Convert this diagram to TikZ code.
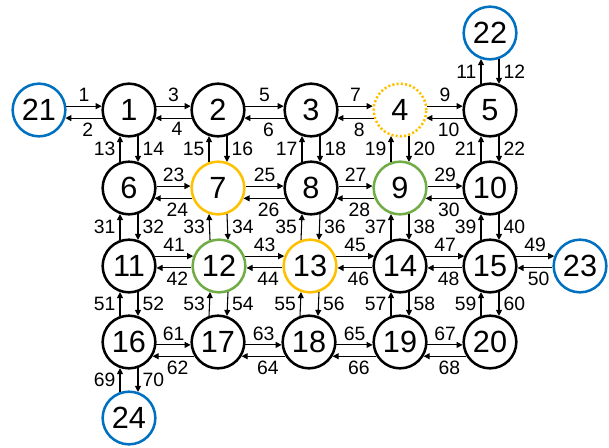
\documentclass[tikz,border=0pt]{standalone}
\usepackage{fontspec}
\setmainfont{Liberation Sans}
\usetikzlibrary{arrows.meta}
\definecolor{gateblue}{HTML}{0070C0}
\definecolor{hubgold}{HTML}{FFC000}
\definecolor{hubgreen}{HTML}{70AD47}

\begin{document}
\begin{tikzpicture}[
    x=0.75pt, y=-0.75pt,
    vtx/.style={draw=#1, circle, line width=1.9pt, minimum size=39.5pt, inner sep=0pt, font=\fontsize{23}{25}\selectfont},
    vtx/.default=black,
    arrow/.style={-{Triangle[length=4.5pt, width=4.5pt]}, line width=0.8pt},
    lbl/.style={font=\fontsize{14.5}{16}\selectfont, inner sep=3pt},
]
    \useasboundingbox (0,0) rectangle (609,447);

    % Grid nodes
    \node[vtx] (n1) at (129, 110) {1};
    \node[vtx] (n2) at (218, 110) {2};
    \node[vtx] (n3) at (311, 110) {3};
    \node[vtx=hubgold, dash pattern=on 1.6pt off 1.6pt] (n4) at (400, 110) {4};
    \node[vtx] (n5) at (490, 110) {5};

    \node[vtx] (n6) at (129, 188) {6};
    \node[vtx=hubgold] (n7) at (218, 188) {7};
    \node[vtx] (n8) at (311, 188) {8};
    \node[vtx=hubgreen] (n9) at (400, 188) {9};
    \node[vtx] (n10) at (490, 188) {10};

    \node[vtx] (n11) at (129, 266) {11};
    \node[vtx=hubgreen] (n12) at (219, 266) {12};
    \node[vtx=hubgold] (n13) at (310, 266) {13};
    \node[vtx] (n14) at (400, 266) {14};
    \node[vtx] (n15) at (490, 266) {15};

    \node[vtx] (n16) at (129, 342) {16};
    \node[vtx] (n17) at (218, 342) {17};
    \node[vtx] (n18) at (309, 342) {18};
    \node[vtx] (n19) at (400, 342) {19};
    \node[vtx] (n20) at (490, 342) {20};

    % Border nodes
    \node[vtx=gateblue] (n21) at (39, 110) {21};
    \node[vtx=gateblue] (n22) at (490, 33) {22};
    \node[vtx=gateblue] (n23) at (580, 266) {23};
    \node[vtx=gateblue] (n24) at (129, 418) {24};

    % Row 1
    \draw[arrow] (n21.8) -- node[lbl, above] {1} (n1.172);
    \draw[arrow] (n1.197) -- node[lbl, below, pos=0.4] {2} (n21.343);
    \draw[arrow] (n1.8) -- node[lbl, above] {3} (n2.172);
    \draw[arrow] (n2.197) -- node[lbl, below, pos=0.4] {4} (n1.343);
    \draw[arrow] (n2.8) -- node[lbl, above] {5} (n3.172);
    \draw[arrow] (n3.197) -- node[lbl, below, pos=0.4] {6} (n2.343);
    \draw[arrow] (n3.8) -- node[lbl, above] {7} (n4.172);
    \draw[arrow] (n4.197) -- node[lbl, below, pos=0.4] {8} (n3.343);
    \draw[arrow] (n4.8) -- node[lbl, above] {9} (n5.172);
    \draw[arrow] (n5.197) -- node[lbl, below, pos=0.4] {10} (n4.343);

    % Row 2
    \draw[arrow] (n6.4) -- node[lbl, above] {23} (n7.176);
    \draw[arrow] (n7.202) -- node[lbl, below, pos=0.4] {24} (n6.338);
    \draw[arrow] (n7.4) -- node[lbl, above] {25} (n8.176);
    \draw[arrow] (n8.202) -- node[lbl, below, pos=0.4] {26} (n7.338);
    \draw[arrow] (n8.4) -- node[lbl, above] {27} (n9.176);
    \draw[arrow] (n9.202) -- node[lbl, below, pos=0.4] {28} (n8.338);
    \draw[arrow] (n9.4) -- node[lbl, above] {29} (n10.176);
    \draw[arrow] (n10.202) -- node[lbl, below, pos=0.4] {30} (n9.338);

    % Row 3
    \draw[arrow] (n11.21) -- node[lbl, above] {41} (n12.159);
    \draw[arrow] (n12.184) -- node[lbl, below, pos=0.4] {42} (n11.356);
    \draw[arrow] (n12.21) -- node[lbl, above] {43} (n13.159);
    \draw[arrow] (n13.184) -- node[lbl, below, pos=0.4] {44} (n12.356);
    \draw[arrow] (n13.21) -- node[lbl, above] {45} (n14.159);
    \draw[arrow] (n14.184) -- node[lbl, below, pos=0.4] {46} (n13.356);
    \draw[arrow] (n14.21) -- node[lbl, above] {47} (n15.159);
    \draw[arrow] (n15.184) -- node[lbl, below, pos=0.4] {48} (n14.356);
    \draw[arrow] (n15.21) -- node[lbl, above] {49} (n23.159);
    \draw[arrow] (n23.184) -- node[lbl, below, pos=0.4] {50} (n15.356);

    % Row 4
    \draw[arrow] (n16.354) -- node[lbl, above] {61} (n17.186);
    \draw[arrow] (n17.211) -- node[lbl, below, pos=0.4] {62} (n16.329);
    \draw[arrow] (n17.354) -- node[lbl, above] {63} (n18.186);
    \draw[arrow] (n18.211) -- node[lbl, below, pos=0.4] {64} (n17.329);
    \draw[arrow] (n18.354) -- node[lbl, above] {65} (n19.186);
    \draw[arrow] (n19.211) -- node[lbl, below, pos=0.4] {66} (n18.329);
    \draw[arrow] (n19.354) -- node[lbl, above] {67} (n20.186);
    \draw[arrow] (n20.211) -- node[lbl, below, pos=0.4] {68} (n19.329);

    % Columns, top band
    \draw[arrow] (n5.109) -- node[lbl, left] {11} (n22.251);
    \draw[arrow] (n22.289) -- node[lbl, right] {12} (n5.71);
    \draw[arrow] (n6.109) -- node[lbl, left] {13} (n1.251);
    \draw[arrow] (n1.289) -- node[lbl, right] {14} (n6.71);
    \draw[arrow] (n7.109) -- node[lbl, left] {15} (n2.251);
    \draw[arrow] (n2.289) -- node[lbl, right] {16} (n7.71);
    \draw[arrow] (n8.109) -- node[lbl, left] {17} (n3.251);
    \draw[arrow] (n3.289) -- node[lbl, right] {18} (n8.71);
    \draw[arrow] (n9.109) -- node[lbl, left] {19} (n4.251);
    \draw[arrow] (n4.289) -- node[lbl, right] {20} (n9.71);
    \draw[arrow] (n10.109) -- node[lbl, left] {21} (n5.251);
    \draw[arrow] (n5.289) -- node[lbl, right] {22} (n10.71);

    % Columns, middle band
    \draw[arrow] (n11.109) -- node[lbl, left] {31} (n6.251);
    \draw[arrow] (n6.289) -- node[lbl, right] {32} (n11.71);
    \draw[arrow] (n12.109) -- node[lbl, left] {33} (n7.251);
    \draw[arrow] (n7.289) -- node[lbl, right] {34} (n12.71);
    \draw[arrow] (n13.109) -- node[lbl, left] {35} (n8.251);
    \draw[arrow] (n8.289) -- node[lbl, right] {36} (n13.71);
    \draw[arrow] (n14.109) -- node[lbl, left] {37} (n9.251);
    \draw[arrow] (n9.289) -- node[lbl, right] {38} (n14.71);
    \draw[arrow] (n15.109) -- node[lbl, left] {39} (n10.251);
    \draw[arrow] (n10.289) -- node[lbl, right] {40} (n15.71);

    % Columns, bottom band
    \draw[arrow] (n16.109) -- node[lbl, left] {51} (n11.251);
    \draw[arrow] (n11.289) -- node[lbl, right] {52} (n16.71);
    \draw[arrow] (n17.109) -- node[lbl, left] {53} (n12.251);
    \draw[arrow] (n12.289) -- node[lbl, right] {54} (n17.71);
    \draw[arrow] (n18.109) -- node[lbl, left] {55} (n13.251);
    \draw[arrow] (n13.289) -- node[lbl, right] {56} (n18.71);
    \draw[arrow] (n19.109) -- node[lbl, left] {57} (n14.251);
    \draw[arrow] (n14.289) -- node[lbl, right] {58} (n19.71);
    \draw[arrow] (n20.109) -- node[lbl, left] {59} (n15.251);
    \draw[arrow] (n15.289) -- node[lbl, right] {60} (n20.71);
    \draw[arrow] (n24.109) -- node[lbl, left] {69} (n16.251);
    \draw[arrow] (n16.289) -- node[lbl, right] {70} (n24.71);

\end{tikzpicture}
\end{document}
